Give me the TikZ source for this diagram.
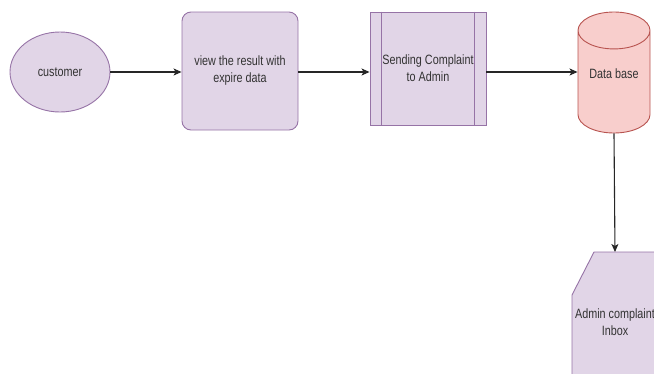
\documentclass[tikz,border=0pt]{standalone}
\usepackage{fontspec}
\newfontfamily\flowfont[FakeStretch=0.8]{Liberation Sans}
\usetikzlibrary{arrows.meta,calc,positioning,shapes.geometric}
\definecolor{FlowInk}{HTML}{333333}
\definecolor{FlowLilac}{HTML}{E1D5E7}
\definecolor{FlowPlum}{HTML}{9673A6}
\definecolor{FlowRose}{HTML}{F8CECC}
\definecolor{FlowBrick}{HTML}{B85450}

\begin{document}
\begin{tikzpicture}[x=1pt,y=-1pt,
          every node/.style={font=\flowfont\fontsize{13.5}{17}\selectfont,
            text=FlowInk,align=center,inner sep=0pt},
          actor/.style={ellipse,draw=FlowPlum,fill=FlowLilac,line width=0.9pt,
            minimum width=100pt,minimum height=80pt},
          taskbox/.style={rectangle,rounded corners=9pt,draw=FlowPlum,
            fill=FlowLilac,line width=0.9pt,minimum width=116pt,
            minimum height=118pt},
          subproc/.style={rectangle,draw=FlowPlum,fill=FlowLilac,
            line width=0.9pt,minimum width=116pt,minimum height=113pt},
          store/.style={cylinder,shape border rotate=90,aspect=0.75,
            draw=FlowBrick,fill=FlowRose,line width=0.9pt,minimum width=72pt,
            minimum height=121pt,text depth=17pt},
          flow/.style={draw=black!85,line width=1.1pt,
            -{Stealth[length=8pt,width=7pt,inset=2pt]}}
        ]
        \useasboundingbox (0,0) rectangle (654,373);
        \clip (0,0) rectangle (654,373);
        \node[actor] (cust) at (60,72) {customer};
        \node[taskbox] (view) at (240,71) {view the result with\\expire data};
        \node[subproc] (send) at (428,68.5) {Sending Complaint\\to Admin};
        \draw[FlowPlum,line width=0.9pt] ($(send.north west)+(12,0)$)
          -- ($(send.south west)+(12,0)$);
        \draw[FlowPlum,line width=0.9pt] ($(send.north east)+(-12,0)$)
          -- ($(send.south east)+(-12,0)$);
        \node[store,anchor=shape center] (db) at (614,72.5) {Data base};
        % card shape, runs off the page
        \coordinate (inboxtop) at (615,252);
        \draw[FlowPlum,fill=FlowLilac,line width=0.9pt] (594,252) -- (660,252)
          -- (660,400) -- (572,400) -- (572,295) -- cycle;
        \node (inbox) at (615,322) {Admin complaint\\Inbox};
        \draw[flow] (cust.east) -- (cust.east -| view.west);
        \draw[flow] (view.east |- cust.east) -- (send.west |- cust.east);
        \draw[flow] (send.east |- cust.east) -- (db.west |- cust.east);
        \draw[flow] (db.bottom) -- (inboxtop);
      \end{tikzpicture}
\end{document}
